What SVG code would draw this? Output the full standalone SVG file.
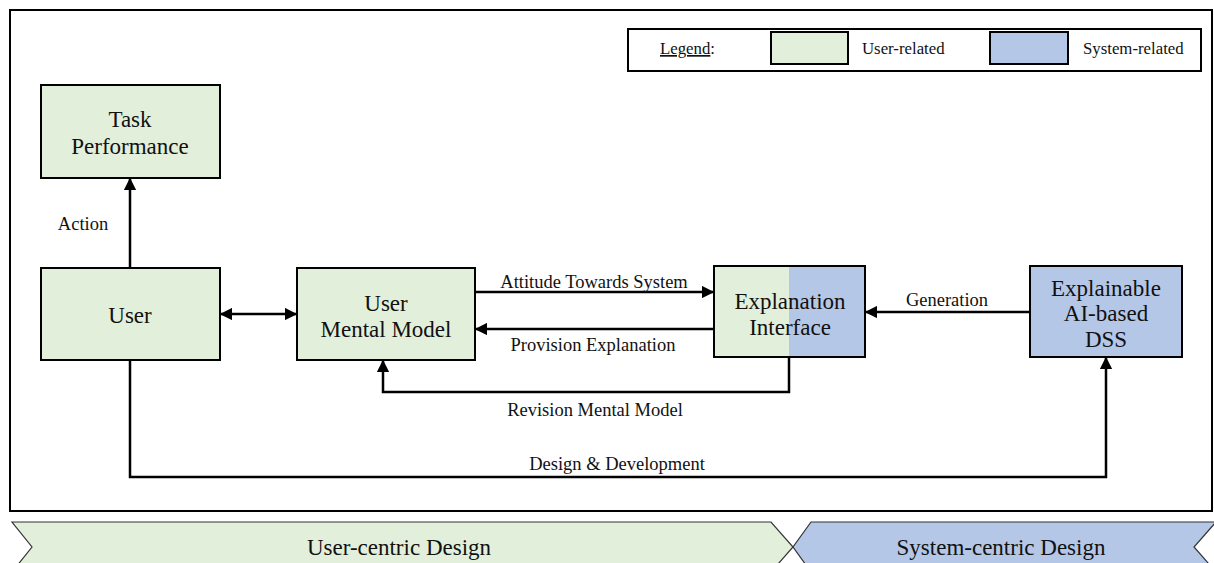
<svg xmlns="http://www.w3.org/2000/svg" width="1214" height="563" viewBox="0 0 1214 563">
<defs>
<style>
.n{stroke:#000;stroke-width:2}
.g{fill:#E2EFDA}
.b{fill:#B4C7E7}
.t{font-family:"Liberation Serif","Times New Roman",serif;font-size:23px;fill:#111;text-anchor:middle}
.l{font-family:"Liberation Serif","Times New Roman",serif;font-size:18.5px;fill:#111;text-anchor:middle}
.lg{font-family:"Liberation Serif","Times New Roman",serif;font-size:16.8px;fill:#111}
.c{fill:none;stroke:#000;stroke-width:2.5}
</style>
<marker id="a" viewBox="0 0 10 10" refX="9" refY="5" markerWidth="5" markerHeight="5" orient="auto-start-reverse" markerUnits="strokeWidth">
<path d="M0,0 L10,5 L0,10 z" fill="#000"/>
</marker>
</defs>
<rect width="1214" height="563" fill="#fff"/>
<rect x="10" y="10" width="1202" height="501" fill="none" stroke="#000" stroke-width="2"/>
<g id="legend">
<rect x="628" y="29" width="573" height="42" fill="#fff" stroke="#000" stroke-width="2"/>
<text class="lg" x="660" y="54"><tspan text-decoration="underline">Legend</tspan>:</text>
<rect x="771" y="32" width="77" height="32" class="n g"/>
<text class="lg" x="862" y="54">User-related</text>
<rect x="990" y="32" width="78" height="32" class="n b"/>
<text class="lg" x="1083" y="54">System-related</text>
</g>
<g id="task">
<rect x="41" y="85" width="179" height="93" class="n g"/>
<text class="t" x="130" y="127">Task</text>
<text class="t" x="130" y="154">Performance</text>
</g>
<g id="user">
<rect x="41" y="268" width="179" height="92" class="n g"/>
<text class="t" x="130" y="323">User</text>
</g>
<g id="umm">
<rect x="297" y="268" width="178" height="92" class="n g"/>
<text class="t" x="386" y="311">User</text>
<text class="t" x="386" y="337">Mental Model</text>
</g>
<g id="ei">
<rect x="714" y="266" width="75" height="91" class="g"/>
<rect x="789" y="266" width="76" height="91" class="b"/>
<rect x="714" y="266" width="151" height="91" fill="none" stroke="#000" stroke-width="2"/>
<text class="t" x="790" y="309">Explanation</text>
<text class="t" x="790" y="335">Interface</text>
</g>
<g id="dss">
<rect x="1030" y="266" width="152" height="91" class="n b"/>
<text class="t" x="1106" y="296">Explainable</text>
<text class="t" x="1106" y="321">AI-based</text>
<text class="t" x="1106" y="347">DSS</text>
</g>
<g id="connectors">
<path class="c" d="M130,268 V179" marker-end="url(#a)"/>
<path class="c" d="M221,314 H296" marker-start="url(#a)" marker-end="url(#a)"/>
<path class="c" d="M475,292 H713" marker-end="url(#a)"/>
<path class="c" d="M714,329 H476" marker-end="url(#a)"/>
<path class="c" d="M1030,312 H866" marker-end="url(#a)"/>
<path class="c" d="M789,357 V392 H383 V361" marker-end="url(#a)"/>
<path class="c" d="M130,360 V477 H1106 V358" marker-end="url(#a)"/>
<text class="l" x="83" y="230">Action</text>
<text class="l" x="594" y="288">Attitude Towards System</text>
<text class="l" x="593" y="351">Provision Explanation</text>
<text class="l" x="947" y="306">Generation</text>
<text class="l" x="595" y="416">Revision Mental Model</text>
<text class="l" x="617" y="470">Design &amp; Development</text>
</g>
<g id="phases">
<polygon points="12,522 771,522 793,547 771,572 12,572 32,547" fill="#E2EFDA" stroke="#333" stroke-width="1.2"/>
<polygon points="811,522 1218,522 1218,572 811,572 793,547" fill="#B4C7E7" stroke="#333" stroke-width="1.2"/>
<polygon points="1216,522 1194,547 1216,572" fill="#fff" stroke="#333" stroke-width="1.2"/>
<text class="t" x="399" y="555">User-centric Design</text>
<text class="t" x="1001" y="555">System-centric Design</text>
</g>
</svg>
